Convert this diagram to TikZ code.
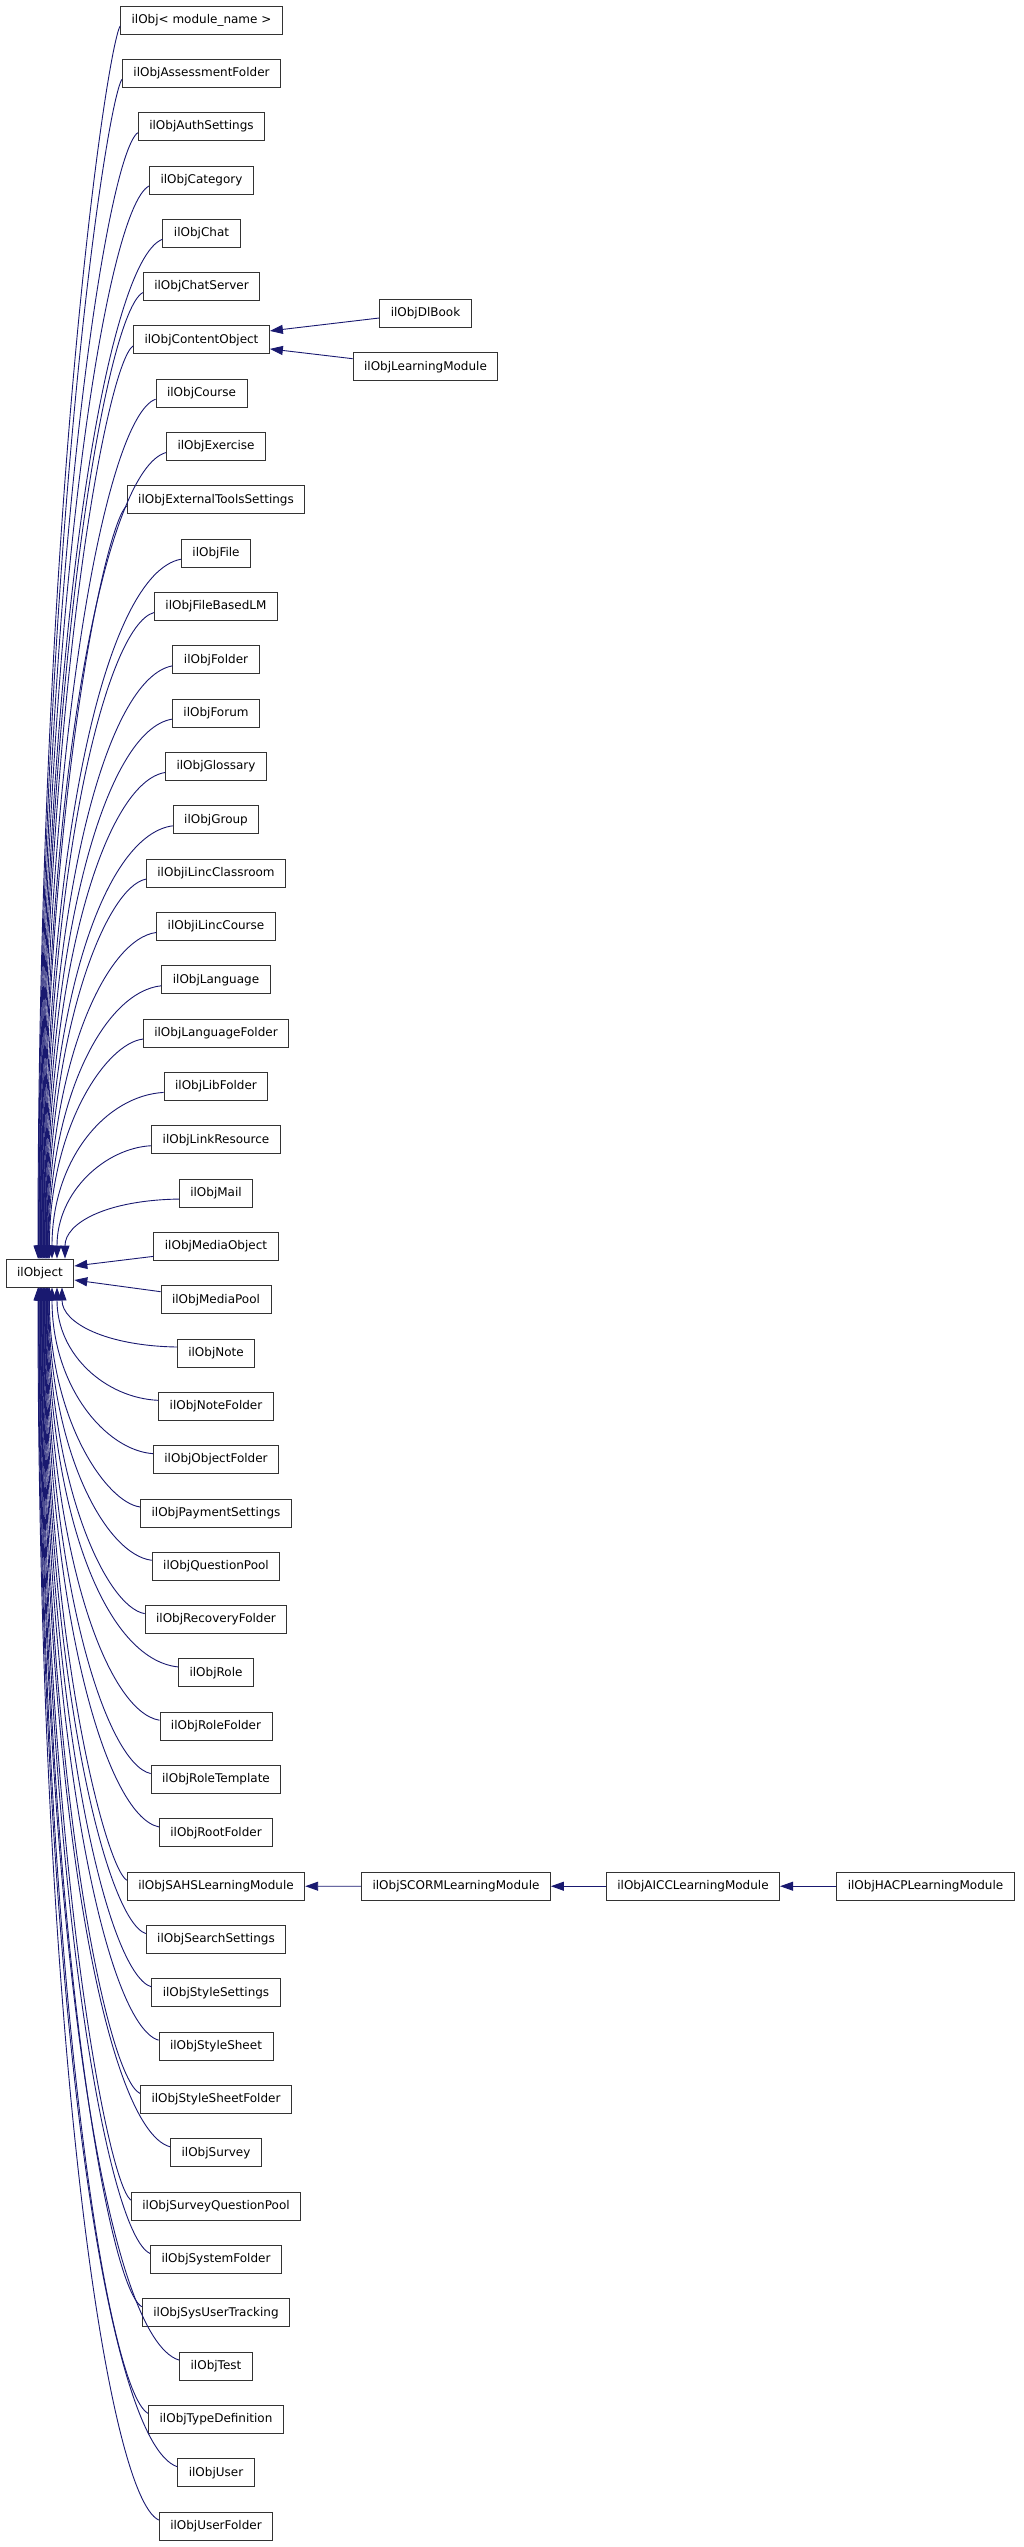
\documentclass[tikz,border=0pt]{standalone}
\usepackage{fontspec}
\setmainfont{DejaVu Sans}
\usepackage{tikz}
\usetikzlibrary{arrows.meta,positioning,calc}
\definecolor{Edge}{HTML}{191970}
\definecolor{Frame}{HTML}{333333}

\begin{document}
\begin{tikzpicture}[x=1pt,y=-1pt,>={Triangle[length=13pt,width=9pt]},
  cls/.style={draw=Frame,line width=0.9pt,minimum height=28pt,inner xsep=11pt,
    font=\fontsize{12pt}{14pt}\selectfont},
  edge/.style={draw=Edge,line width=0.9pt,->}]
  \useasboundingbox (0,0) rectangle (1024,2547);
  \node[cls] (obj) at (40,1273) {ilObject};
  % direct subclasses, one per row
  \foreach \n [count=\i] in {ilObj< module\_name >,ilObjAssessmentFolder,ilObjAuthSettings,
    ilObjCategory,ilObjChat,ilObjChatServer,ilObjContentObject,ilObjCourse,ilObjExercise,
    ilObjExternalToolsSettings,ilObjFile,ilObjFileBasedLM,ilObjFolder,ilObjForum,ilObjGlossary,
    ilObjGroup,ilObjiLincClassroom,ilObjiLincCourse,ilObjLanguage,ilObjLanguageFolder,
    ilObjLibFolder,ilObjLinkResource,ilObjMail,ilObjMediaObject,ilObjMediaPool,ilObjNote,
    ilObjNoteFolder,ilObjObjectFolder,ilObjPaymentSettings,ilObjQuestionPool,ilObjRecoveryFolder,
    ilObjRole,ilObjRoleFolder,ilObjRoleTemplate,ilObjRootFolder,ilObjSAHSLearningModule,
    ilObjSearchSettings,ilObjStyleSettings,ilObjStyleSheet,ilObjStyleSheetFolder,ilObjSurvey,
    ilObjSurveyQuestionPool,ilObjSystemFolder,ilObjSysUserTracking,ilObjTest,
    ilObjTypeDefinition,ilObjUser,ilObjUserFolder} {
    \pgfmathsetmacro\yy{20+(\i-1)*53.32}
    \pgfmathsetmacro\xx{\i<9 ? 201.5 : 216}
    \node[cls] (sub\i) at (\xx,\yy) {\n};
  }
  % second level
  \node[cls] (dlbook) at (425.5,313) {ilObjDlBook};
  \node[cls] (lmod) at (425.5,366.7) {ilObjLearningModule};
  \node[cls] (scorm) at (456,1886.2) {ilObjSCORMLearningModule};
  \node[cls] (aicc) at (693,1886.2) {ilObjAICCLearningModule};
  \node[cls] (hacp) at (925.5,1886.2) {ilObjHACPLearningModule};
  % curved edges into ilObject
  \foreach \i in {1,...,48} {
    \ifnum\i<24
      \pgfmathsetmacro\dx{\i<21 ? -2+0.6*(\i-1) : (\i==21 ? 12 : (\i==22 ? 17 : 25))}
      \pgfmathsetmacro\yy{20+(\i-1)*53.32+6}
      \pgfmathsetmacro\ca{\yy+0.02*(1259-\yy)}
      \pgfmathsetmacro\cb{\yy+0.4*(1259-\yy)}
      \pgfmathsetmacro\cx{40+\dx}
      \draw[edge] ($(sub\i.west)+(0,6)$) .. controls (106,\ca) and (\cx,\cb) .. ($(obj.north)+(\dx,0)$);
    \else\ifnum\i>25
      \pgfmathsetmacro\j{int(49-\i)}
      \pgfmathsetmacro\dx{\j<21 ? -2+0.6*(\j-1) : (\j==21 ? 12 : (\j==22 ? 17 : 22))}
      \pgfmathsetmacro\yy{20+(\i-1)*53.32-6}
      \pgfmathsetmacro\ca{\yy-0.02*(\yy-1287)}
      \pgfmathsetmacro\cb{\yy-0.4*(\yy-1287)}
      \pgfmathsetmacro\cx{40+\dx}
      \draw[edge] ($(sub\i.west)+(0,-6)$) .. controls (106,\ca) and (\cx,\cb) .. ($(obj.south)+(\dx,0)$);
    \fi\fi
  }
  \draw[edge] ($(sub24.west)+(0,10)$) -- ($(obj.east)+(0,-7)$);
  \draw[edge] ($(sub25.west)+(0,-8)$) -- ($(obj.east)+(0,7)$);
  \draw[edge] ($(dlbook.west)+(0,5)$) -- ($(sub7.east)+(0,-9)$);
  \draw[edge] ($(lmod.west)+(0,-8)$) -- ($(sub7.east)+(0,9)$);
  \draw[edge] (scorm) -- (sub36);
  \draw[edge] (aicc) -- (scorm);
  \draw[edge] (hacp) -- (aicc);
\end{tikzpicture}
\end{document}
